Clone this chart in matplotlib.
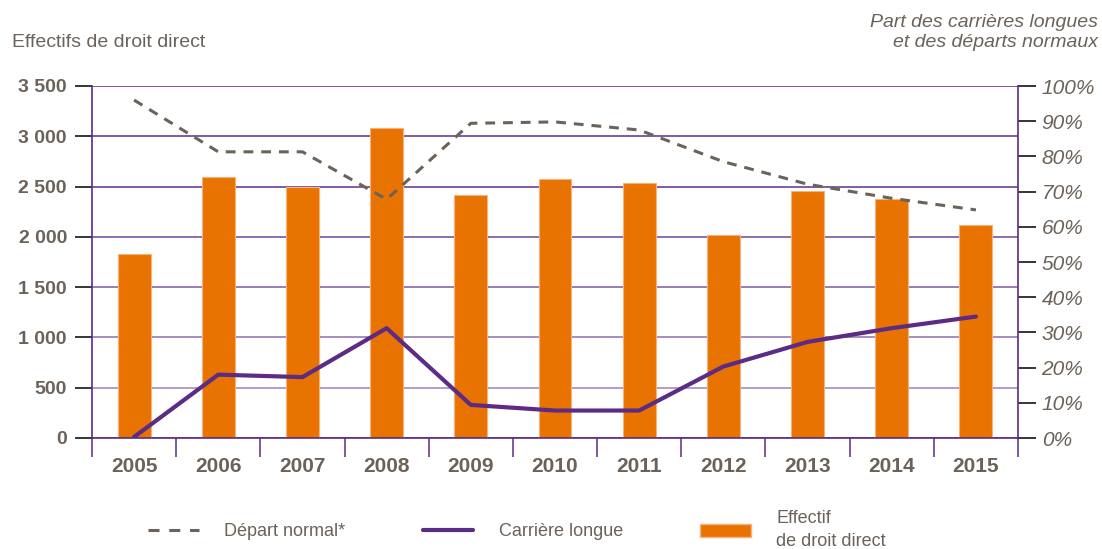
import matplotlib as mpl
mpl.use('Agg')
import matplotlib.pyplot as plt
from matplotlib.lines import Line2D
from matplotlib.patches import Patch
from matplotlib.colors import to_rgb
import numpy as np

plt.rcParams['font.family'] = ['Liberation Sans', 'DejaVu Sans']

years = ['2005', '2006', '2007', '2008', '2009', '2010', '2011', '2012', '2013', '2014', '2015']
effectifs = [1830, 2600, 2500, 3080, 2420, 2580, 2540, 2020, 2460, 2380, 2120]
depart_normal = [96.0, 81.3, 81.3, 67.8, 89.4, 89.8, 87.5, 78.5, 72.1, 68.1, 64.8]
carriere_longue = [0.3, 18.0, 17.3, 31.2, 9.4, 7.8, 7.8, 20.3, 27.3, 31.2, 34.5]

left_ticks = [0, 500, 1000, 1500, 2000, 2500, 3000, 3500]
left_labels = ['0', '500', '1 000', '1 500', '2 000', '2 500', '3 000', '3 500']
right_ticks = list(range(0, 101, 10))

TXT = '#6b6259'
ORANGE = '#e97300'
PURPLE = '#5b2b86'
DARK = np.array(to_rgb('#5f2f8f'))
LIGHT = np.array(to_rgb('#ad95c8'))


def fade(frac):
    # 1 -> sombre (haut), 0 -> clair (bas)
    frac = min(1.0, frac * 1.4)
    return tuple(LIGHT + (DARK - LIGHT) * frac)


fig = plt.figure(figsize=(11.02, 5.49), dpi=100)
ax = fig.add_axes([92 / 1102, 111 / 549, 926 / 1102, 352 / 549])
x = np.arange(len(years))

ax.bar(x, effectifs, width=0.39, color=ORANGE, edgecolor='#f4b37c', linewidth=0.8, zorder=2)
ax.set_xlim(-0.5, len(years) - 0.5)
ax.set_ylim(0, 3500)
ax.set_axisbelow(True)

ax.set_yticks(left_ticks)
ax.set_yticklabels(left_labels, fontsize=14, fontweight='bold', color=TXT)
ax.tick_params(axis='y', direction='out', length=12, width=1.1, pad=6)
ax.yaxis.grid(True, linewidth=1.1)

ax.set_xticks(x)
ax.set_xticklabels(years, fontsize=15, fontweight='bold', color=TXT)
ax.tick_params(axis='x', which='major', length=0, pad=14)
ax.set_xticks(np.arange(-0.5, len(years), 1), minor=True)
ax.tick_params(axis='x', which='minor', direction='out', length=14, width=1.1, color=PURPLE)

for s in ['top', 'right']:
    ax.spines[s].set_visible(False)
for s in ['left', 'bottom']:
    ax.spines[s].set_color(PURPLE)
    ax.spines[s].set_linewidth(1.2)

fig.canvas.draw()
for tk, gl, v in zip(ax.yaxis.get_major_ticks(), ax.yaxis.get_gridlines(), left_ticks):
    c = fade(v / 3500) if v > 0 else to_rgb(PURPLE)
    gl.set_color(c)
    tk.tick1line.set_color(c)

ax2 = ax.twinx()
ax2.set_ylim(0, 100)
ax2.plot(x, depart_normal, color=TXT, linewidth=2.2, linestyle=(0, (3.2, 2.6)),
         label='Départ normal*')
ax2.plot(x, carriere_longue, color=PURPLE, linewidth=3, solid_capstyle='round',
         label='Carrière longue')
ax2.set_yticks(right_ticks)
ax2.set_yticklabels([f'{t}%' for t in right_ticks], fontsize=15, fontstyle='italic', color=TXT)
ax2.tick_params(axis='y', direction='out', length=13, width=1.1, pad=4)
for s in ['top', 'left', 'bottom']:
    ax2.spines[s].set_visible(False)
ax2.spines['right'].set_color(PURPLE)
ax2.spines['right'].set_linewidth(1.2)
for tk, v in zip(ax2.yaxis.get_major_ticks(), right_ticks):
    tk.tick2line.set_color(fade(v / 100) if v > 0 else to_rgb(PURPLE))

fig.text(12 / 1102, 1 - 47 / 549, 'Effectifs de droit direct', fontsize=14, color=TXT,
         ha='left', va='baseline')
fig.text(1098 / 1102, 1 - 14 / 549, 'Part des carrières longues\net des départs normaux',
         fontsize=14, color=TXT, style='italic', ha='right', va='top',
         multialignment='right', linespacing=1.25)

handles = [
    Line2D([], [], color=TXT, linewidth=2.2, linestyle=(0, (3.6, 3.2))),
    Line2D([], [], color=PURPLE, linewidth=3, solid_capstyle='round'),
    Patch(facecolor=ORANGE, edgecolor='#f4b37c'),
]
labels = ['Départ normal*', 'Carrière longue', 'Effectif\nde droit direct']
leg = fig.legend(handles, labels, loc='center left', bbox_to_anchor=(148 / 1102, 1 - 530 / 549),
                 ncol=3, frameon=False, fontsize=13, handlelength=2.8, handletextpad=1.4,
                 columnspacing=4.3, borderpad=0, borderaxespad=0)
for t in leg.get_texts():
    t.set_color(TXT)
    t.set_linespacing(1.5)

fig.savefig('out.png', dpi=100)
